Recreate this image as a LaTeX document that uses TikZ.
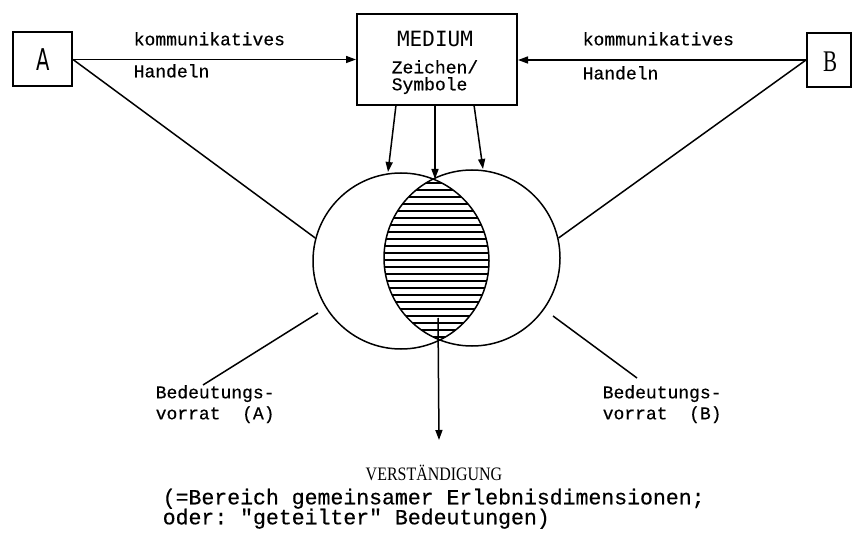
\documentclass[tikz,border=0pt]{standalone}
\usepackage{fontspec}
\setmainfont{Liberation Serif}
\setmonofont{Liberation Mono}[FakeBold=0.5]
\newfontfamily\dvsans{DejaVu Sans}
\newfontfamily\dvmono{DejaVu Sans Mono}
\usetikzlibrary{arrows.meta}
\begin{document}
\begin{tikzpicture}[x=1pt,y=-1pt,line width=1.5pt,
  tip/.style={-{Triangle[length=10pt,width=7pt]}},
  box/.style={draw,line width=2pt,inner sep=0pt},
  lbl/.style={inner sep=0pt,anchor=mid west,font=\ttfamily\fontsize{18}{22}\selectfont},
  bot/.style={inner sep=0pt,anchor=mid west,font=\ttfamily\fontsize{21.5}{24}\selectfont},
  ring/.style={circle,draw,minimum size=176pt,inner sep=0pt}]
\useasboundingbox (0,0) rectangle (853,534);

% boxes
\node[box,minimum width=59pt,minimum height=54pt] (A) at (42.5,59.5) {};
\node[inner sep=0pt] (Atxt) at (43,60) {\dvsans\fontsize{30}{30}\selectfont\scalebox{0.65}[1]{A}};
\node[box,minimum width=44pt,minimum height=54pt] (B) at (829,60) {};
\node[inner sep=0pt] (Btxt) at (830,62) {\fontsize{30}{30}\selectfont\scalebox{0.7}[1]{B}};
\node[box,minimum width=160pt,minimum height=91pt] (medium) at (437,59.5) {};
\node[inner sep=0pt] (medtxt) at (435,39) {\dvmono\fontsize{21}{22}\selectfont MEDIUM};
\node[lbl] (zeich) at (391,71) {Zeichen/};
\node[lbl] (symb) at (391,88) {Symbole};

% top labels
\node[lbl] (k1) at (133,43) {kommunikatives};
\node[lbl] (h1) at (133,75) {Handeln};
\node[lbl] (k2) at (582,43) {kommunikatives};
\node[lbl] (h2) at (582,77) {Handeln};

% circles
\node[ring] (circA) at (401,261) {};
\node[ring] (circB) at (472,258) {};

% hatched lens
\begin{scope}
  \clip (401,261) circle (88pt);
  \clip (472,258) circle (88pt);
  \foreach \yy in {183,190,...,340} \draw[line width=1.3pt] (380,\yy) -- (500,\yy);
\end{scope}

% horizontal arrows
\draw[tip] (A.east) -- (medium.west |- A.east);
\draw[tip] (B.west) -- (medium.east |- B.west);

% lines to circles
\draw (A.east) -- (circA.165);
\draw (B.west) -- (circB.13);

% arrows from medium
\coordinate (m1) at (396,105);
\coordinate (m2) at (435,105);
\coordinate (m3) at (474,105);
\coordinate (e1) at (388,172);
\coordinate (e2) at (435,179);
\coordinate (e3) at (483,169);
\draw[tip] (m1) -- (e1);
\draw[tip] (m2) -- (e2);
\draw[tip] (m3) -- (e3);

% down arrow
\coordinate (vs) at (438,318);
\coordinate (vtip) at (439,440);
\draw[tip] (vs) -- (vtip);

% Bedeutungsvorrat labels
\coordinate (la1) at (318,313);
\coordinate (la2) at (203,385);
\coordinate (lb1) at (553,316);
\coordinate (lb2) at (637,378);
\draw (la1) -- (la2);
\draw (lb1) -- (lb2);
\node[lbl] (bA1) at (155,396) {Bedeutungs-};
\node[lbl] (bA2) at (155,417) {vorrat\ \ (A)};
\node[lbl] (bB1) at (602,396) {Bedeutungs-};
\node[lbl] (bB2) at (602,417) {vorrat\ \ (B)};

% bottom text
\node[inner sep=0pt] (verst) at (434,473) {\fontsize{19}{20}\selectfont\scalebox{0.84}[1]{VERSTÄNDIGUNG}};
\node[bot] (t1) at (162,502) {(=Bereich gemeinsamer Erlebnisdimensionen;};
\node[bot] (t2) at (162,522) {oder: "geteilter" Bedeutungen)};
\end{tikzpicture}
\end{document}
